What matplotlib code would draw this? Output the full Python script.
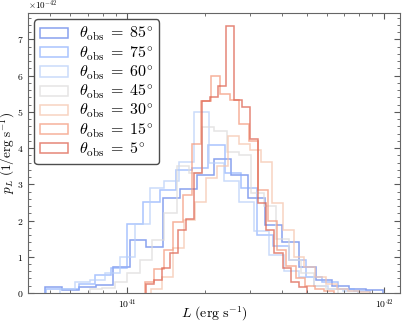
import numpy as np
import matplotlib
matplotlib.use("Agg")
import matplotlib.pyplot as plt
import seaborn as sns
from matplotlib.ticker import AutoMinorLocator, ScalarFormatter
from matplotlib.patches import Patch

plt.rcParams['font.family'] = 'serif'
plt.rcParams['font.serif'] = ['cmr10']
plt.rcParams['mathtext.fontset'] = 'cm'
plt.rcParams['axes.formatter.use_mathtext'] = True

# observing angles (deg), legend order
angles = [85, 75, 60, 45, 30, 15, 5]

# per-series histogram range (log10 L) -- 20 log-spaced bins each
log_lo = [40.679, 40.684, 40.738, 40.854, 41.093, 41.068, 41.071]
log_hi = [41.996, 41.946, 41.899, 41.822, 41.945, 41.803, 41.698]

# densities in units of 1e-42 per (erg s^-1)
h85 = [0.16, 0.08, 0.17, 0.21, 0.71, 1.45, 1.26, 2.61, 2.88, 3.25,
       3.71, 3.27, 2.61, 1.87, 1.41, 0.72, 0.36, 0.20, 0.10, 0.08]
h75 = [0.10, 0.12, 0.25, 0.50, 0.70, 1.90, 2.50, 2.85, 3.40, 3.45,
       4.08, 3.30, 2.90, 1.60, 1.30, 0.90, 0.45, 0.30, 0.12, 0.05]
h60 = [0.10, 0.30, 0.35, 0.55, 1.00, 1.90, 2.90, 3.10, 3.62, 5.00,
       3.60, 3.10, 2.50, 1.70, 1.05, 0.60, 0.45, 0.20, 0.10, 0.05]
h45 = [0.10, 0.15, 0.30, 0.55, 0.90, 1.46, 2.20, 3.50, 3.30, 4.58,
       4.46, 3.89, 3.80, 2.75, 2.40, 1.50, 0.90, 0.55, 0.20, 0.10]
h30 = [0.10, 0.45, 1.23, 2.01, 2.52, 3.16, 3.50, 4.32, 4.12, 3.94,
       3.62, 2.47, 1.74, 1.00, 0.72, 0.45, 0.25, 0.12, 0.06, 0.03]
h15 = [0.30, 0.65, 1.20, 1.95, 2.70, 4.10, 5.30, 6.00, 5.50, 5.32,
       4.67, 4.20, 2.85, 2.00, 1.20, 0.75, 0.40, 0.20, 0.10, 0.05]
h5 = [0.25, 0.35, 0.70, 1.10, 1.75, 2.05, 3.30, 5.30, 5.40, 5.70,
      7.36, 5.32, 5.12, 4.24, 2.47, 1.74, 1.09, 0.68, 0.31, 0.17]
heights = [h85, h75, h60, h45, h30, h15, h5]
nbins = 20

colors = sns.color_palette("coolwarm", len(angles))
ALPHA = 0.75

fig = plt.figure(figsize=(4.07, 3.25), dpi=100)
ax = fig.add_axes([0.069, 0.0985, 0.914, 0.8615])

handles = []
for ang, lo, hi, h, c in zip(angles, log_lo, log_hi, heights, colors):
    edges = np.logspace(lo, hi, nbins + 1)
    ax.stairs(np.array(h) * 1e-42, edges, color=c, alpha=ALPHA, lw=1.1)
    handles.append(Patch(facecolor='none', edgecolor=c, alpha=ALPHA, lw=1.1,
                         label=r'$\theta_{\rm obs}\;=\;%d^{\circ}$' % ang))

ax.set_xscale('log')
ax.set_ylim(bottom=0)
ax.yaxis.set_minor_locator(AutoMinorLocator(5))
ax.yaxis.set_major_formatter(ScalarFormatter(useMathText=True))
ax.tick_params(which='both', direction='in', top=True, right=True, labelsize=7,
               color='0.35')
ax.tick_params(which='major', length=4)
ax.tick_params(which='minor', length=2)
ax.yaxis.get_offset_text().set_fontsize(6.5)
for s in ax.spines.values():
    s.set_color('0.4')

ax.set_xlabel(r'$L\ (\mathrm{erg\ s^{-1}})$', fontsize=10)
ax.set_ylabel(r'$p_L\ (1/\mathrm{erg\ s^{-1}})$', fontsize=9.5)
ax.xaxis.set_label_coords(0.5, -0.04)
ax.yaxis.set_label_coords(-0.029, 0.5)

leg = ax.legend(handles=handles, loc='upper left', fontsize=11.5,
                handlelength=1.75, handleheight=0.6,
                fancybox=True, framealpha=1, edgecolor='0.3',
                borderaxespad=0.4, labelspacing=0.05, borderpad=0.35,
                handletextpad=0.7)
leg.get_frame().set_linewidth(1.0)

fig.savefig('out.png', dpi=100)
